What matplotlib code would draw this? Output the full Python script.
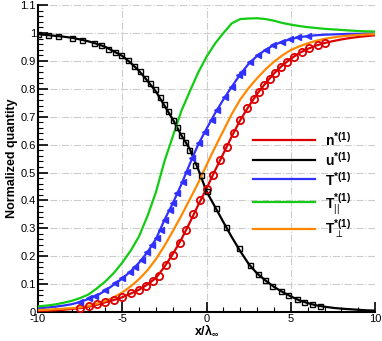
import numpy as np
import matplotlib
matplotlib.use("Agg")
import matplotlib.pyplot as plt
from matplotlib.ticker import MultipleLocator

plt.rcParams['font.family'] = ['Liberation Sans', 'DejaVu Sans']
plt.rcParams['mathtext.fontset'] = 'custom'
plt.rcParams['mathtext.rm'] = 'Liberation Sans'
plt.rcParams['mathtext.it'] = 'Liberation Sans:italic'
plt.rcParams['mathtext.bf'] = 'Liberation Sans:bold'

# line data (theory), x grid in units of lambda
x_line = [-10, -9.5, -9, -8.5, -8, -7.5, -7, -6.5, -6, -5.5, -5, -4.5, -4, -3.5, -3,
          -2.5, -2, -1.5, -1, -0.5, 0, 0.5, 1, 1.5, 2, 2.5, 3, 3.5, 4, 4.5, 5,
          5.5, 6, 6.5, 7, 7.5, 8, 8.5, 9, 9.5, 10]

n_line = [0.004, 0.005, 0.006, 0.008, 0.011, 0.014, 0.019, 0.026, 0.035, 0.043, 0.053,
          0.066, 0.08, 0.099, 0.122, 0.162, 0.208, 0.26, 0.32, 0.383, 0.443, 0.507,
          0.568, 0.63, 0.688, 0.737, 0.782, 0.82, 0.855, 0.884, 0.908, 0.928, 0.943,
          0.955, 0.964, 0.971, 0.977, 0.982, 0.986, 0.989, 0.992]

u_line = [0.996, 0.993, 0.990, 0.987, 0.983, 0.977, 0.970, 0.961, 0.950, 0.934, 0.918,
          0.893, 0.864, 0.828, 0.790, 0.740, 0.690, 0.634, 0.585, 0.512, 0.432, 0.377,
          0.322, 0.268, 0.218, 0.172, 0.138, 0.113, 0.090, 0.072, 0.056, 0.042, 0.032,
          0.024, 0.019, 0.015, 0.012, 0.010, 0.008, 0.006, 0.005]

T_line = [0.013, 0.016, 0.019, 0.023, 0.028, 0.036, 0.047, 0.059, 0.077, 0.098, 0.120,
          0.146, 0.177, 0.215, 0.262, 0.330, 0.390, 0.457, 0.530, 0.600, 0.657, 0.712,
          0.762, 0.808, 0.852, 0.890, 0.918, 0.940, 0.957, 0.969, 0.978, 0.985, 0.989,
          0.992, 0.994, 0.995, 0.996, 0.997, 0.997, 0.998, 0.998]

Tpar_line = [0.020, 0.023, 0.027, 0.033, 0.040, 0.050, 0.063, 0.085, 0.110, 0.140, 0.177,
             0.220, 0.272, 0.345, 0.430, 0.540, 0.630, 0.720, 0.790, 0.858, 0.915, 0.962,
             1.000, 1.035, 1.050, 1.052, 1.053, 1.050, 1.044, 1.036, 1.030, 1.025, 1.021,
             1.018, 1.015, 1.013, 1.011, 1.009, 1.007, 1.006, 1.005]

Tperp_line = [0.007, 0.008, 0.010, 0.012, 0.014, 0.017, 0.022, 0.030, 0.040, 0.053, 0.070,
              0.092, 0.118, 0.150, 0.190, 0.237, 0.290, 0.345, 0.403, 0.462, 0.527, 0.590,
              0.650, 0.710, 0.762, 0.803, 0.838, 0.870, 0.897, 0.920, 0.939, 0.952, 0.963,
              0.972, 0.979, 0.984, 0.988, 0.991, 0.993, 0.995, 0.996]

# symbol data
n_sym_x = [-7.5, -7.0, -6.5, -6.0, -5.5, -5.0, -4.5, -4.0, -3.6, -3.2, -2.8, -2.4, -2.0,
           -1.6, -1.2, -0.8, -0.4, 0.0, 0.4, 0.8, 1.2, 1.6, 2.0, 2.4, 2.8, 3.1, 3.4,
           3.75, 4.05, 4.4, 4.8, 5.2, 5.65, 6.1, 6.6, 7.05]
n_sym_y = [0.013, 0.02, 0.027, 0.036, 0.044, 0.054, 0.067, 0.08, 0.094, 0.11, 0.13, 0.168,
           0.205, 0.248, 0.295, 0.35, 0.40, 0.44, 0.492, 0.545, 0.592, 0.64, 0.688, 0.73,
           0.763, 0.79, 0.815, 0.835, 0.858, 0.879, 0.897, 0.915, 0.932, 0.945, 0.956, 0.965]

u_sym_x = [-10, -9.4, -8.8, -8.0, -7.4, -6.65, -6.25, -5.85, -5.45, -5.05, -4.65, -4.3,
           -3.95, -3.65, -3.35, -3.05, -2.75, -2.55, -2.3, -2.0, -1.75, -1.5, -1.25, -1.05,
           -0.7, -0.35, 0.0, 0.55, 1.15, 1.9, 2.55, 3.05, 3.45, 3.9, 4.4, 4.85, 5.35, 5.8,
           6.25, 6.75]
u_sym_y = [0.996, 0.993, 0.989, 0.983, 0.975, 0.965, 0.957, 0.943, 0.933, 0.920, 0.903,
           0.883, 0.864, 0.839, 0.821, 0.799, 0.771, 0.744, 0.720, 0.690, 0.664, 0.634,
           0.610, 0.580, 0.527, 0.491, 0.432, 0.372, 0.304, 0.228, 0.168, 0.138, 0.115,
           0.093, 0.075, 0.060, 0.045, 0.035, 0.028, 0.022]

T_sym_x = [-7.5, -7.0, -6.6, -6.0, -5.45, -5.0, -4.55, -4.25, -3.85, -3.55, -3.25, -2.95,
           -2.7, -2.45, -2.15, -2.0, -1.75, -1.4, -1.15, -0.88, -0.45, -0.1, 0.3, 0.6, 1.1,
           1.5, 1.9, 2.1, 2.6, 3.05, 3.5, 3.95, 4.45, 4.95, 5.45, 6.0]
T_sym_y = [0.037, 0.049, 0.058, 0.079, 0.103, 0.121, 0.144, 0.162, 0.186, 0.216, 0.240,
           0.264, 0.294, 0.33, 0.365, 0.39, 0.425, 0.467, 0.503, 0.553, 0.605, 0.646,
           0.688, 0.724, 0.772, 0.808, 0.849, 0.861, 0.897, 0.921, 0.939, 0.957, 0.969,
           0.977, 0.985, 0.989]

x_ticks = [-10, -5, 0, 5, 10]
x_ticklabels = ['-10', '-5', '0', '5', '10']
y_ticks = [0, 0.1, 0.2, 0.3, 0.4, 0.5, 0.6, 0.7, 0.8, 0.9, 1.0, 1.1]
y_ticklabels = ['0', '0.1', '0.2', '0.3', '0.4', '0.5', '0.6', '0.7', '0.8', '0.9', '1', '1.1']

red = '#dd0000'
blue = '#3030ff'
green = '#11cc11'
orange = '#ff8800'

fig = plt.figure(figsize=(3.82, 3.41), dpi=100)
ax = fig.add_axes([0.0995, 0.085, 0.8825, 0.9])

lw = 1.6
ax.plot(x_line, n_line, color=red, lw=lw, label=r'$\mathbf{n}^{\mathbf{*(1)}}$', zorder=3)
ax.plot(x_line, u_line, color='black', lw=lw, label=r'$\mathbf{u}^{\mathbf{*(1)}}$', zorder=3)
ax.plot(x_line, T_line, color=blue, lw=lw, label=r'$\mathbf{T}^{\mathbf{*(1)}}$', zorder=3)
ax.plot(x_line, Tpar_line, color=green, lw=lw, label=r'$\mathbf{T}^{\mathbf{*(1)}}_{||}$', zorder=3)
ax.plot(x_line, Tperp_line, color=orange, lw=lw, label=r'$\mathbf{T}^{\mathbf{*(1)}}_{\perp}$', zorder=3)

ax.plot(n_sym_x, n_sym_y, 'o', ms=5.2, mfc='none', mec=red, mew=1.3, zorder=4)
ax.plot(u_sym_x, u_sym_y, 's', ms=3.6, mfc='none', mec='black', mew=1.0, zorder=4)
ax.plot(T_sym_x, T_sym_y, '<', ms=4.6, color=blue, zorder=4)

ax.set_xlim(-10, 10)
ax.set_ylim(0, 1.1)
ax.set_xticks(x_ticks)
ax.set_xticklabels(x_ticklabels)
ax.set_yticks(y_ticks)
ax.set_yticklabels(y_ticklabels)
ax.xaxis.set_minor_locator(MultipleLocator(1))
ax.yaxis.set_minor_locator(MultipleLocator(0.02))
ax.tick_params(which='major', direction='in', length=7, width=1.2, labelsize=8, pad=1.5)
ax.tick_params(which='minor', direction='in', length=3.5, width=0.8)
ax.spines['top'].set_visible(False)
ax.spines['right'].set_visible(False)
ax.spines['left'].set_linewidth(1.5)
ax.spines['bottom'].set_linewidth(1.5)
ax.grid(True, which='major', color='#cccccc', ls='-.', lw=0.8)
ax.set_axisbelow(True)

ax.set_xlabel(r'$\mathbf{x/\lambda_{\infty}}$', fontsize=9, labelpad=-1)
ax.set_ylabel('Normalized quantity', fontsize=9, fontweight='bold', labelpad=2)

leg = ax.legend(loc='center left', bbox_to_anchor=(0.60, 0.41), frameon=False,
                fontsize=10, handlelength=4.5, handleheight=1.4, labelspacing=0.12,
                handletextpad=0.7)

fig.savefig('out.png', dpi=100)
